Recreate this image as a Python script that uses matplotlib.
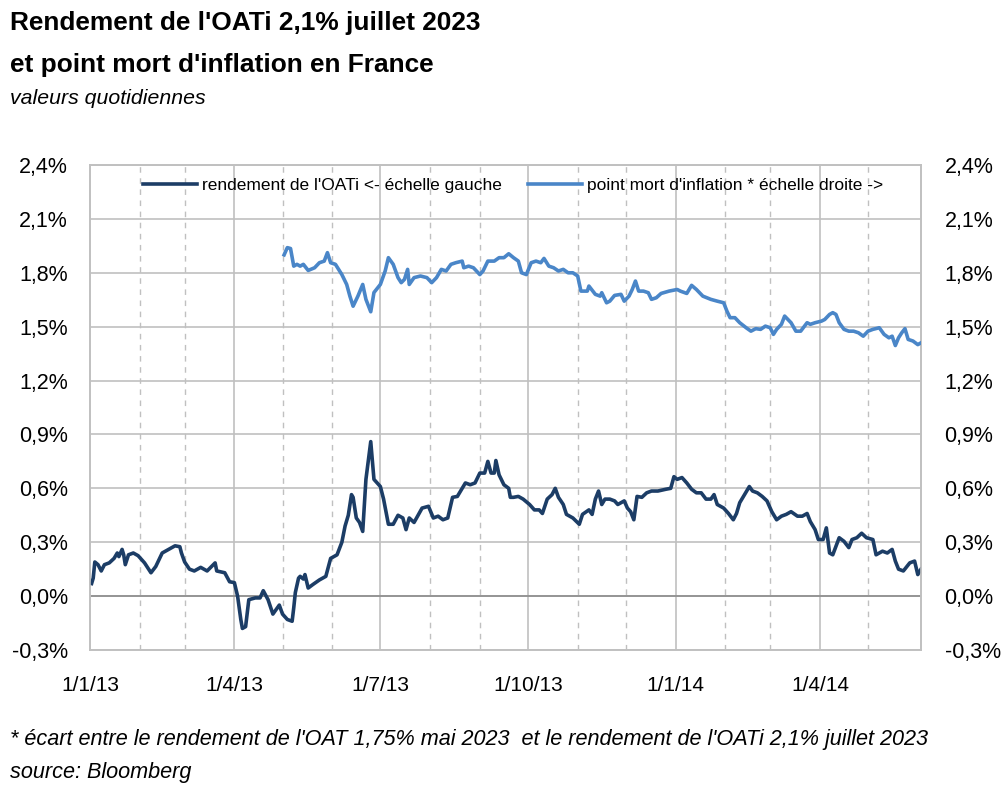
import matplotlib
matplotlib.use("Agg")
import matplotlib.pyplot as plt
from matplotlib import font_manager
import pandas as pd

# rendement de l'OATi (échelle gauche), en %
dates_oati = [
    "2013-01-02", "2013-01-03", "2013-01-04", "2013-01-06", "2013-01-08", "2013-01-10", "2013-01-13", "2013-01-16",
    "2013-01-18", "2013-01-19", "2013-01-21", "2013-01-22", "2013-01-23", "2013-01-25", "2013-01-28", "2013-01-31",
    "2013-02-04", "2013-02-08", "2013-02-11", "2013-02-15", "2013-02-19", "2013-02-23", "2013-02-26", "2013-02-27",
    "2013-03-01", "2013-03-04", "2013-03-07", "2013-03-11", "2013-03-15", "2013-03-20", "2013-03-21", "2013-03-26", "2013-03-29",
    "2013-04-01", "2013-04-03", "2013-04-05", "2013-04-06", "2013-04-08", "2013-04-10", "2013-04-14", "2013-04-17",
    "2013-04-19", "2013-04-22", "2013-04-25", "2013-04-29",
    "2013-05-01", "2013-05-04", "2013-05-07", "2013-05-08", "2013-05-09", "2013-05-11", "2013-05-12", "2013-05-14",
    "2013-05-15", "2013-05-17", "2013-05-20", "2013-05-24", "2013-05-28", "2013-05-31",
    "2013-06-04", "2013-06-07", "2013-06-09", "2013-06-11", "2013-06-13", "2013-06-14", "2013-06-16", "2013-06-18",
    "2013-06-20", "2013-06-22", "2013-06-25", "2013-06-27",
    "2013-07-01", "2013-07-03", "2013-07-06", "2013-07-09", "2013-07-12", "2013-07-15", "2013-07-17", "2013-07-19",
    "2013-07-22", "2013-07-27", "2013-07-31",
    "2013-08-03", "2013-08-06", "2013-08-09", "2013-08-12", "2013-08-15", "2013-08-18", "2013-08-23", "2013-08-26", "2013-08-29",
    "2013-09-01", "2013-09-04", "2013-09-06", "2013-09-08", "2013-09-10", "2013-09-11", "2013-09-13", "2013-09-16",
    "2013-09-19", "2013-09-20", "2013-09-22", "2013-09-25", "2013-09-28",
    "2013-10-02", "2013-10-05", "2013-10-08", "2013-10-10", "2013-10-13", "2013-10-16", "2013-10-18", "2013-10-20",
    "2013-10-23", "2013-10-25", "2013-10-29",
    "2013-11-02", "2013-11-04", "2013-11-08", "2013-11-10", "2013-11-12", "2013-11-14", "2013-11-16", "2013-11-18",
    "2013-11-21", "2013-11-24", "2013-11-26", "2013-11-30",
    "2013-12-02", "2013-12-04", "2013-12-06", "2013-12-08", "2013-12-11", "2013-12-14", "2013-12-17", "2013-12-21",
    "2013-12-26", "2013-12-29", "2013-12-31",
    "2014-01-02", "2014-01-05", "2014-01-08", "2014-01-11", "2014-01-14", "2014-01-17", "2014-01-20", "2014-01-23",
    "2014-01-25", "2014-01-27", "2014-01-31",
    "2014-02-03", "2014-02-06", "2014-02-08", "2014-02-10", "2014-02-12", "2014-02-16", "2014-02-18", "2014-02-21",
    "2014-02-24", "2014-02-27",
    "2014-03-02", "2014-03-05", "2014-03-08", "2014-03-11", "2014-03-14", "2014-03-18", "2014-03-21", "2014-03-24",
    "2014-03-26", "2014-03-29", "2014-03-31",
    "2014-04-03", "2014-04-05", "2014-04-07", "2014-04-09", "2014-04-13", "2014-04-16", "2014-04-19", "2014-04-21",
    "2014-04-24", "2014-04-27", "2014-04-30",
    "2014-05-04", "2014-05-06", "2014-05-10", "2014-05-13", "2014-05-16", "2014-05-18", "2014-05-20", "2014-05-23",
    "2014-05-27", "2014-05-30", "2014-06-01", "2014-06-03",
]
oati = [
    0.07, 0.10, 0.19, 0.175, 0.14, 0.175, 0.185, 0.21, 0.24, 0.22, 0.26, 0.23, 0.175, 0.23, 0.24, 0.225,
    0.185, 0.13, 0.165, 0.24, 0.26, 0.28, 0.275, 0.24,
    0.19, 0.15, 0.14, 0.16, 0.14, 0.185, 0.14, 0.13, 0.08,
    0.075, 0.0, -0.13, -0.18, -0.17, -0.02, -0.01, -0.01, 0.03, -0.02, -0.10, -0.05,
    -0.10, -0.13, -0.14, -0.065, 0.02, 0.10, 0.11, 0.095, 0.12, 0.045, 0.065, 0.09, 0.11, 0.21,
    0.23, 0.30, 0.39, 0.45, 0.565, 0.55, 0.435, 0.41, 0.36, 0.65, 0.86, 0.65,
    0.61, 0.54, 0.40, 0.40, 0.45, 0.435, 0.37, 0.435, 0.41, 0.49, 0.50,
    0.435, 0.445, 0.425, 0.435, 0.55, 0.555, 0.63, 0.62, 0.63,
    0.685, 0.685, 0.75, 0.685, 0.685, 0.755, 0.675, 0.62, 0.60, 0.55, 0.55, 0.555, 0.54,
    0.51, 0.48, 0.48, 0.46, 0.54, 0.565, 0.60, 0.55, 0.51, 0.455, 0.435,
    0.40, 0.455, 0.48, 0.455, 0.54, 0.585, 0.51, 0.54, 0.54, 0.53, 0.51, 0.53,
    0.49, 0.47, 0.425, 0.555, 0.55, 0.575, 0.585, 0.585, 0.595, 0.60, 0.665,
    0.65, 0.66, 0.63, 0.595, 0.575, 0.575, 0.54, 0.54, 0.565, 0.51, 0.49,
    0.46, 0.425, 0.46, 0.52, 0.55, 0.61, 0.585, 0.575, 0.555, 0.53,
    0.47, 0.425, 0.445, 0.455, 0.47, 0.445, 0.445, 0.46, 0.415, 0.37, 0.315,
    0.315, 0.38, 0.24, 0.23, 0.325, 0.305, 0.27, 0.315, 0.325, 0.35, 0.325,
    0.315, 0.23, 0.25, 0.24, 0.26, 0.195, 0.15, 0.14, 0.185, 0.195, 0.12, 0.15,
]

# point mort d'inflation (échelle droite), en %
dates_pmi = [
    "2013-05-02", "2013-05-04", "2013-05-06", "2013-05-08", "2013-05-10", "2013-05-12", "2013-05-14", "2013-05-17",
    "2013-05-21", "2013-05-24", "2013-05-27", "2013-05-29", "2013-05-31",
    "2013-06-03", "2013-06-07", "2013-06-10", "2013-06-12", "2013-06-14", "2013-06-17", "2013-06-20", "2013-06-22",
    "2013-06-25", "2013-06-27",
    "2013-07-01", "2013-07-04", "2013-07-06", "2013-07-09", "2013-07-12", "2013-07-14", "2013-07-16", "2013-07-18",
    "2013-07-19", "2013-07-22", "2013-07-26", "2013-07-30",
    "2013-08-02", "2013-08-05", "2013-08-08", "2013-08-11", "2013-08-14", "2013-08-17", "2013-08-21", "2013-08-22",
    "2013-08-25", "2013-08-28",
    "2013-09-01", "2013-09-03", "2013-09-06", "2013-09-10", "2013-09-13", "2013-09-16", "2013-09-19", "2013-09-22",
    "2013-09-25", "2013-09-27", "2013-09-30",
    "2013-10-03", "2013-10-06", "2013-10-09", "2013-10-11", "2013-10-14", "2013-10-17", "2013-10-20", "2013-10-23",
    "2013-10-26", "2013-10-29",
    "2013-11-01", "2013-11-03", "2013-11-07", "2013-11-08", "2013-11-12", "2013-11-15", "2013-11-16", "2013-11-19",
    "2013-11-21", "2013-11-24", "2013-11-28", "2013-11-30",
    "2013-12-03", "2013-12-05", "2013-12-07", "2013-12-09", "2013-12-12", "2013-12-15", "2013-12-17", "2013-12-20",
    "2013-12-23", "2013-12-28",
    "2014-01-02", "2014-01-04", "2014-01-08", "2014-01-11", "2014-01-14", "2014-01-18", "2014-01-23", "2014-01-27", "2014-01-31",
    "2014-02-02", "2014-02-04", "2014-02-07", "2014-02-10", "2014-02-14", "2014-02-17", "2014-02-20", "2014-02-23", "2014-02-26",
    "2014-03-01", "2014-03-03", "2014-03-05", "2014-03-08", "2014-03-10", "2014-03-14", "2014-03-17", "2014-03-20",
    "2014-03-24", "2014-03-26", "2014-03-29",
    "2014-04-02", "2014-04-04", "2014-04-07", "2014-04-09", "2014-04-11", "2014-04-13", "2014-04-16", "2014-04-19",
    "2014-04-22", "2014-04-25", "2014-04-28",
    "2014-05-01", "2014-05-04", "2014-05-08", "2014-05-11", "2014-05-14", "2014-05-16", "2014-05-18", "2014-05-20",
    "2014-05-22", "2014-05-24", "2014-05-26", "2014-05-29", "2014-06-01", "2014-06-03",
]
pmi = [
    1.90, 1.94, 1.935, 1.837, 1.847, 1.837, 1.847, 1.813, 1.828, 1.856, 1.865, 1.912, 1.856,
    1.847, 1.79, 1.735, 1.67, 1.614, 1.67, 1.735, 1.652, 1.583, 1.69,
    1.735, 1.81, 1.884, 1.847, 1.773, 1.745, 1.763, 1.819, 1.735, 1.773, 1.782, 1.773,
    1.745, 1.773, 1.819, 1.81, 1.847, 1.856, 1.865, 1.828, 1.837, 1.828,
    1.79, 1.81, 1.865, 1.865, 1.884, 1.884, 1.906, 1.884, 1.865, 1.80, 1.79,
    1.856, 1.865, 1.856, 1.88, 1.837, 1.828, 1.81, 1.819, 1.80, 1.80,
    1.782, 1.698, 1.698, 1.726, 1.68, 1.67, 1.689, 1.633, 1.642, 1.674, 1.68, 1.642,
    1.67, 1.707, 1.754, 1.698, 1.698, 1.689, 1.652, 1.661, 1.685, 1.698,
    1.707, 1.698, 1.685, 1.73, 1.707, 1.67, 1.652, 1.642, 1.633,
    1.587, 1.55, 1.55, 1.522, 1.494, 1.475, 1.489, 1.485, 1.503,
    1.494, 1.457, 1.485, 1.513, 1.559, 1.522, 1.475, 1.475, 1.522, 1.513, 1.522,
    1.531, 1.54, 1.568, 1.578, 1.568, 1.522, 1.485, 1.475, 1.475, 1.466, 1.447,
    1.475, 1.485, 1.494, 1.457, 1.438, 1.447, 1.395, 1.438, 1.466, 1.489, 1.429, 1.42, 1.40, 1.41,
]

y_ticks = [-0.3, 0.0, 0.3, 0.6, 0.9, 1.2, 1.5, 1.8, 2.1, 2.4]
x_ticks = ["2013-01-01", "2013-04-01", "2013-07-01", "2013-10-01", "2014-01-01", "2014-04-01"]
x_labels = ["1/1/13", "1/4/13", "1/7/13", "1/10/13", "1/1/14", "1/4/14"]

assert len(dates_oati) == len(oati) and len(dates_pmi) == len(pmi)

names = {f.name for f in font_manager.fontManager.ttflist}
narrow = "Liberation Sans Narrow" if "Liberation Sans Narrow" in names else "Liberation Sans"
plt.rcParams["font.family"] = [narrow, "DejaVu Sans"]

dark = "#1C3D66"
light = "#4A86C8"
grid = "#C0C0C0"

fig = plt.figure(figsize=(10.08, 7.94), dpi=100)
ax = fig.add_axes([90 / 1008, 1 - 650 / 794, 831 / 1008, 485 / 794])
ax2 = ax.twinx()

xmin, xmax = pd.Timestamp("2013-01-01"), pd.Timestamp("2014-06-03")
for a in (ax, ax2):
    a.set_xlim(xmin, xmax)
    a.set_ylim(-0.3, 2.4)
    for s in a.spines.values():
        s.set_color(grid)
        s.set_linewidth(1.2)

# grille : mois en pointillés, trimestres en trait plein
for m in pd.date_range("2013-02-01", "2014-05-01", freq="MS"):
    if m.month in (1, 4, 7, 10):
        ax.axvline(m, color=grid, lw=1.2, zorder=0)
    else:
        ax.axvline(m, color=grid, lw=1.0, ls=(0, (4, 4)), zorder=0)
for v in y_ticks:
    ax.axhline(v, color=grid, lw=1.2, zorder=0)
ax.axhline(0, color="#8C8C8C", lw=1.2, zorder=1)

l1, = ax.plot(pd.to_datetime(dates_oati), oati, color=dark, lw=2.6, zorder=3,
              label="rendement de l'OATi <- échelle gauche")
l2, = ax2.plot(pd.to_datetime(dates_pmi), pmi, color=light, lw=2.6, zorder=3,
               label="point mort d'inflation * échelle droite ->")

fmt = [f"{v:.1f}%".replace(".", ",") for v in y_ticks]
ax.set_yticks(y_ticks)
ax.set_yticklabels(fmt)
ax2.set_yticks(y_ticks)
ax2.set_yticklabels(fmt)
ax.set_xticks(pd.to_datetime(x_ticks))
ax.set_xticklabels(x_labels)
ax.tick_params(axis="y", length=0, pad=16, labelsize=15.5)
ax2.tick_params(axis="y", length=0, pad=17, labelsize=15.5)
ax.tick_params(axis="x", length=0, pad=19, labelsize=15)

fig.legend(handles=[l1, l2], loc="center left", bbox_to_anchor=(143 / 1008, 1 - 185 / 794),
           ncol=2, frameon=False, fontsize=12.5, handlelength=3.1, handletextpad=0.3,
           columnspacing=1.5, borderpad=0, borderaxespad=0)

fig.text(10 / 1008, 1 - 30 / 794, "Rendement de l'OATi 2,1% juillet 2023", family="Liberation Sans",
         weight="bold", fontsize=18.9, va="baseline")
fig.text(10 / 1008, 1 - 72 / 794, "et point mort d'inflation en France", family="Liberation Sans",
         weight="bold", fontsize=18.9, va="baseline")
fig.text(10 / 1008, 1 - 104 / 794, "valeurs quotidiennes", family="Liberation Sans",
         style="italic", fontsize=15.3, va="baseline")
fig.text(10 / 1008, 1 - 745 / 794,
         "* écart entre le rendement de l'OAT 1,75% mai 2023  et le rendement de l'OATi 2,1% juillet 2023",
         style="italic", fontsize=15.6, va="baseline")
fig.text(10 / 1008, 1 - 778 / 794, "source: Bloomberg", style="italic", fontsize=15.6, va="baseline")

fig.savefig("out.png", dpi=100)
